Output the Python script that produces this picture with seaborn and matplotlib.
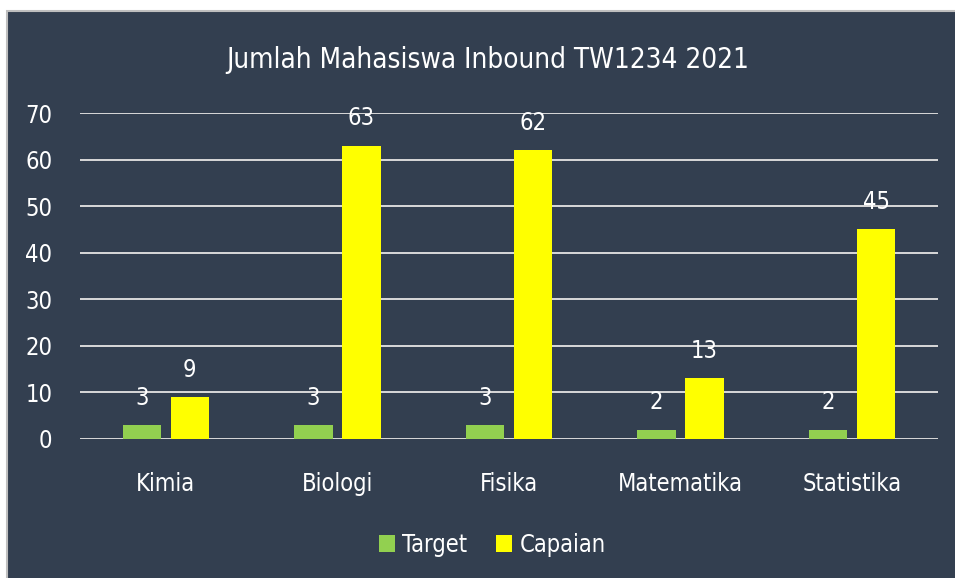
import pandas as pd
import numpy as np
import seaborn as sns
import matplotlib.pyplot as plt
from matplotlib.patches import Rectangle

# data
prodi = ['Kimia', 'Biologi', 'Fisika', 'Matematika', 'Statistika']
target = [3, 3, 3, 2, 2]
capaian = [9, 63, 62, 13, 45]
yticks = [0, 10, 20, 30, 40, 50, 60, 70]

bg = '#333F50'
sns.set_style('white')
plt.rcParams['font.family'] = ['DejaVu Sans']
plt.rcParams['font.stretch'] = 'condensed'

df = pd.DataFrame({'Prodi': prodi * 2,
                   'Jumlah': target + capaian,
                   'Seri': ['Target'] * 5 + ['Capaian'] * 5})

fig = plt.figure(figsize=(9.55, 5.78), dpi=100, facecolor='white')
# panel gelap
fig.patches.append(Rectangle((7 / 955, -0.01), 1, 1 - 11 / 578 + 0.01, transform=fig.transFigure,
                             facecolor=bg, edgecolor='#BFBFBF', linewidth=1.5, zorder=-5))
ax = fig.add_axes([80 / 955, 1 - 439 / 578, 858 / 955, 326 / 578])
ax.set_facecolor('none')

sns.barplot(data=df, x='Prodi', y='Jumlah', hue='Seri', order=prodi,
            palette={'Target': '#92D050', 'Capaian': '#FFFF00'},
            saturation=1, linewidth=0,
            width=0.56, gap=0.2, ax=ax, zorder=3, legend=True)

for c in ax.containers:
    ax.bar_label(c, padding=11, color='white', fontsize=17)

ax.set_ylim(0, 70)
ax.set_yticks(yticks)
ax.grid(axis='y', color='#D9D9D9', linewidth=1.4, zorder=0)
for s in ax.spines.values():
    s.set_visible(False)
ax.tick_params(axis='both', length=0, colors='white', labelsize=17)
ax.tick_params(axis='y', pad=20)
ax.tick_params(axis='x', pad=24)
ax.set_xlabel('')
ax.set_ylabel('')

fig.text(488 / 955, 1 - 60 / 578, 'Jumlah Mahasiswa Inbound TW1234 2021', color='white',
         fontsize=20, ha='center', va='center')

leg = ax.legend(loc='center', bbox_to_anchor=(492 / 955, 1 - 545 / 578),
                bbox_transform=fig.transFigure, ncol=2, frameon=False,
                fontsize=17, handlelength=0.7, handleheight=0.7, handletextpad=0.3,
                columnspacing=1.2)
for t in leg.get_texts():
    t.set_color('white')

fig.savefig('out.png', dpi=100, facecolor='white')
